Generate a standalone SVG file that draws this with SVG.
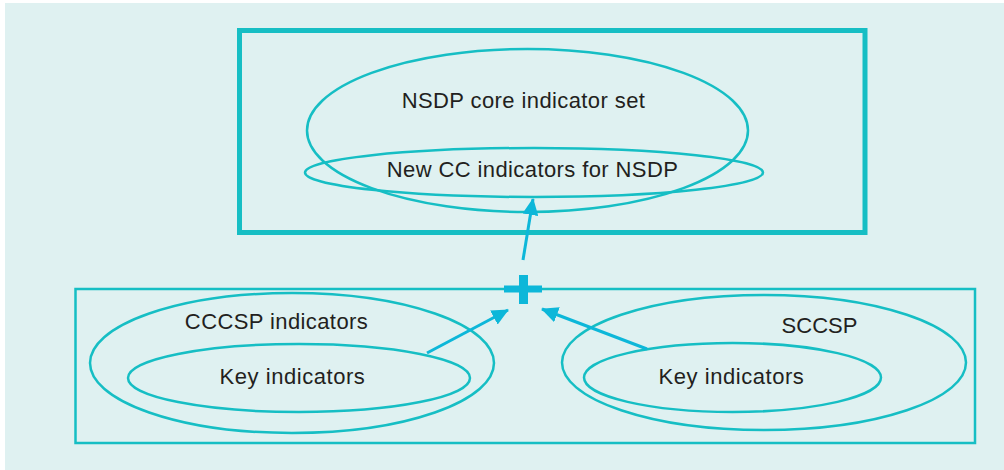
<svg xmlns="http://www.w3.org/2000/svg" width="1004" height="470" viewBox="0 0 1004 470">
<style>
.bg{fill:#dff1f1}
.ell{fill:none;stroke:#16bec4;stroke-width:2.5}
.box{fill:none;stroke:#16bec4}
.lbl{font-family:"Liberation Sans",Arial,sans-serif;font-size:22px;fill:#231f20;text-anchor:middle;letter-spacing:0.4px}
.key{letter-spacing:0.55px}
.conn{stroke:#0db7d9;stroke-width:3;fill:none}
</style>
<defs>
<marker id="ah" markerUnits="userSpaceOnUse" markerWidth="18" markerHeight="16" refX="16" refY="8" orient="auto">
<path d="M0,0 L17,8 L0,16 Z" fill="#0db7d9"/>
</marker>
</defs>
<rect class="bg" x="5" y="3" width="999" height="467"/>
<g id="nsdp-box">
<rect class="box" x="239.5" y="30.5" width="625.5" height="202" stroke-width="5"/>
</g>
<g id="nsdp-core">
<ellipse class="ell" cx="527.5" cy="130.5" rx="220.5" ry="81.5"/>
<text class="lbl" x="523.5" y="107.5">NSDP core indicator set</text>
</g>
<g id="new-cc">
<ellipse class="ell" cx="534" cy="172.5" rx="229" ry="24.5"/>
<text class="lbl" x="532.5" y="177">New CC indicators for NSDP</text>
</g>
<g id="bottom-box">
<rect class="box" x="75.5" y="289" width="899.5" height="154" stroke-width="2.5"/>
</g>
<g id="cccsp">
<ellipse class="ell" cx="292" cy="363" rx="202" ry="70"/>
<text class="lbl" x="276.5" y="329">CCCSP indicators</text>
</g>
<g id="cccsp-key">
<ellipse class="ell" cx="299" cy="378" rx="171" ry="34"/>
<text class="lbl key" x="292.5" y="384">Key indicators</text>
</g>
<g id="sccsp">
<ellipse class="ell" cx="764" cy="362.5" rx="202" ry="67.5"/>
<text class="lbl" x="819.5" y="333" style="letter-spacing:0">SCCSP</text>
</g>
<g id="sccsp-key">
<ellipse class="ell" cx="732.5" cy="377.5" rx="148.5" ry="34.5"/>
<text class="lbl key" x="731.5" y="384">Key indicators</text>
</g>
<g id="plus">
<rect x="504" y="285.5" width="38" height="7" fill="#0db7d9"/>
<rect x="519" y="275" width="9" height="29" fill="#0db7d9"/>
</g>
<g id="connectors">
<line class="conn" x1="523" y1="260" x2="533" y2="199" marker-end="url(#ah)"/>
<line class="conn" x1="427" y1="353" x2="508" y2="310" marker-end="url(#ah)"/>
<line class="conn" x1="647" y1="349" x2="542" y2="309" marker-end="url(#ah)"/>
</g>
</svg>
